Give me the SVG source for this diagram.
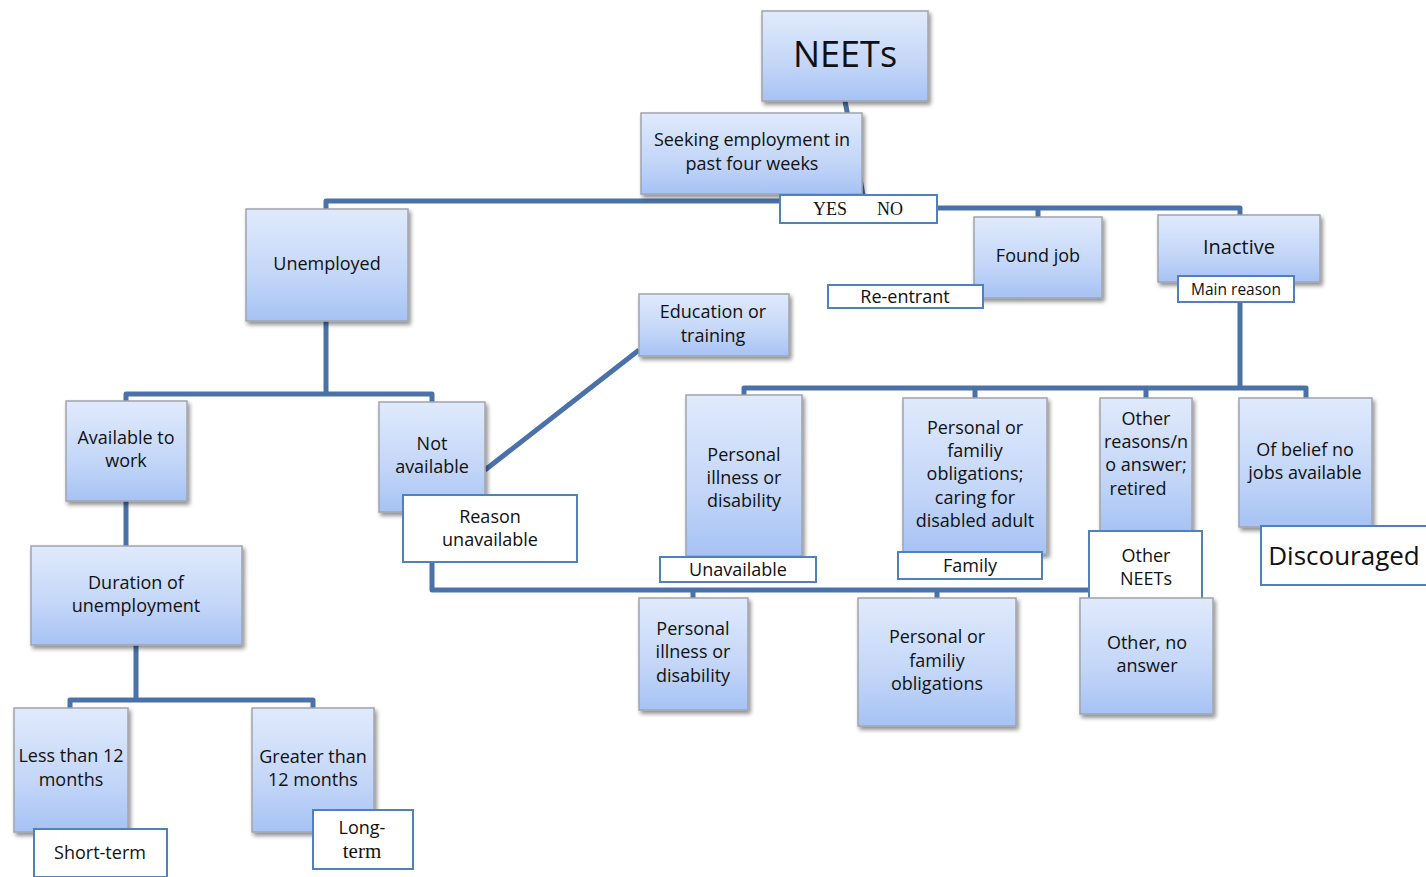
<svg xmlns="http://www.w3.org/2000/svg" width="1426" height="877" viewBox="0 0 1426 877">
<defs>
<linearGradient id="g" x1="0" y1="0" x2="0" y2="1">
<stop offset="0" stop-color="#e0eafc"/>
<stop offset="0.6" stop-color="#c3d6f8"/>
<stop offset="1" stop-color="#a6c2f4"/>
</linearGradient>
<filter id="sh" x="-10%" y="-10%" width="130%" height="130%">
<feGaussianBlur in="SourceAlpha" stdDeviation="2"/>
<feOffset dx="2" dy="3" result="b"/>
<feComponentTransfer><feFuncA type="linear" slope="0.45"/></feComponentTransfer>
<feMerge><feMergeNode/><feMergeNode in="SourceGraphic"/></feMerge>
</filter>
</defs>
<style>
.n{fill:url(#g);stroke:#a0a4ac;stroke-width:1.5;filter:url(#sh)}
.l{fill:#fff;stroke:#4f81bd;stroke-width:2}
.c{fill:none;stroke:#4a72a8;stroke-width:5;stroke-linejoin:round}
text{font-family:"Open Sans","Liberation Sans",sans-serif;font-size:18px;fill:#111;text-anchor:middle}
.s{font-family:"Liberation Serif",serif;font-size:18px}
</style>
<rect width="1426" height="877" fill="#fff"/>
<g id="connectors">
<path class="c" d="M845 101 L864 200"/>
<path class="c" d="M862 201 H326 V209"/>
<path class="c" d="M937 208 H1240 V215 M1038 208 V217"/>
<path class="c" d="M326 321 V394 M126 401 V394 H432 V402"/>
<path class="c" d="M126 501 V546"/>
<path class="c" d="M136 645 V700 M70 708 V700 H313 V708"/>
<path class="c" d="M485 470 L639 350"/>
<path class="c" d="M432 512 V590 H1146 V598 M693 590 V598 M937 590 V598"/>
<path class="c" d="M1240 302 V388 M744 395 V388 H1306 V398 M975 388 V398 M1146 388 V398"/>
</g>
<g id="neets"><rect class="n" x="762" y="11" width="166" height="90"/><text x="845" y="67" style="font-size:36px">NEETs</text></g>
<g id="seeking"><rect class="n" x="641" y="113" width="221" height="81"/><text x="752" y="146">Seeking employment in</text><text x="752" y="170">past four weeks</text></g>
<g id="yesno"><rect class="l" x="780" y="195" width="157" height="28"/><text class="s" x="830" y="215">YES</text><text class="s" x="890" y="215">NO</text></g>
<g id="unemployed"><rect class="n" x="246" y="209" width="162" height="112"/><text x="327" y="270">Unemployed</text></g>
<g id="foundjob"><rect class="n" x="974" y="217" width="128" height="81"/><text x="1038" y="262">Found job</text></g>
<g id="reentrant"><rect class="l" x="828" y="285" width="155" height="23"/><text x="905" y="303">Re-entrant</text></g>
<g id="inactive"><rect class="n" x="1158" y="215" width="162" height="67"/><text x="1239" y="254" style="font-size:20px">Inactive</text></g>
<g id="mainreason"><rect class="l" x="1178" y="276" width="116" height="26"/><text x="1236" y="295" style="font-size:15.5px">Main reason</text></g>
<g id="education"><rect class="n" x="639" y="294" width="150" height="62"/><text x="713" y="318">Education or</text><text x="713" y="342">training</text></g>
<g id="available"><rect class="n" x="66" y="401" width="121" height="100"/><text x="126" y="444">Available to</text><text x="126" y="467">work</text></g>
<g id="notavailable"><rect class="n" x="379" y="402" width="106" height="110"/><text x="432" y="450">Not</text><text x="432" y="473">available</text></g>
<g id="reasonunavailable"><rect class="l" x="403" y="495" width="174" height="67"/><text x="490" y="523">Reason</text><text x="490" y="546">unavailable</text></g>
<g id="illness1"><rect class="n" x="686" y="395" width="116" height="161"/><text x="744" y="461">Personal</text><text x="744" y="484">illness or</text><text x="744" y="507">disability</text></g>
<g id="unavailable"><rect class="l" x="660" y="557" width="156" height="25"/><text x="738" y="576">Unavailable</text></g>
<g id="family1"><rect class="n" x="903" y="398" width="144" height="156"/><text x="975" y="434">Personal or</text><text x="975" y="457">familiy</text><text x="975" y="480">obligations;</text><text x="975" y="504">caring for</text><text x="975" y="527">disabled adult</text></g>
<g id="familylabel"><rect class="l" x="898" y="552" width="144" height="27"/><text x="970" y="572">Family</text></g>
<g id="otherreasons"><rect class="n" x="1100" y="398" width="92" height="134"/><text x="1146" y="425">Other</text><text x="1146" y="448">reasons/n</text><text x="1146" y="471">o answer;</text><text x="1138" y="495">retired</text></g>
<g id="otherneets"><rect class="l" x="1089" y="531" width="113" height="71"/><text x="1146" y="562">Other</text><text x="1146" y="585">NEETs</text></g>
<g id="belief"><rect class="n" x="1239" y="398" width="133" height="129"/><text x="1305" y="456">Of belief no</text><text x="1305" y="479">jobs available</text></g>
<g id="discouraged"><rect class="l" x="1261" y="526" width="170" height="59"/><text x="1344" y="565" style="font-size:26px">Discouraged</text></g>
<g id="duration"><rect class="n" x="31" y="546" width="211" height="99"/><text x="136" y="589">Duration of</text><text x="136" y="612">unemployment</text></g>
<g id="less12"><rect class="n" x="14" y="708" width="114" height="124"/><text x="71" y="762">Less than 12</text><text x="71" y="786">months</text></g>
<g id="shortterm"><rect class="l" x="34" y="829" width="133" height="48"/><text x="100" y="859">Short-term</text></g>
<g id="greater12"><rect class="n" x="252" y="708" width="122" height="124"/><text x="313" y="763">Greater than</text><text x="313" y="786">12 months</text></g>
<g id="longterm"><rect class="l" x="313" y="810" width="100" height="59"/><text x="362" y="834">Long-</text><text class="s" x="362" y="858" style="font-size:21px">term</text></g>
<g id="illness2"><rect class="n" x="639" y="598" width="109" height="112"/><text x="693" y="635">Personal</text><text x="693" y="658">illness or</text><text x="693" y="682">disability</text></g>
<g id="family2"><rect class="n" x="858" y="598" width="158" height="128"/><text x="937" y="643">Personal or</text><text x="937" y="667">familiy</text><text x="937" y="690">obligations</text></g>
<g id="othernoanswer"><rect class="n" x="1080" y="598" width="133" height="116"/><text x="1147" y="649">Other, no</text><text x="1147" y="672">answer</text></g>
</svg>
